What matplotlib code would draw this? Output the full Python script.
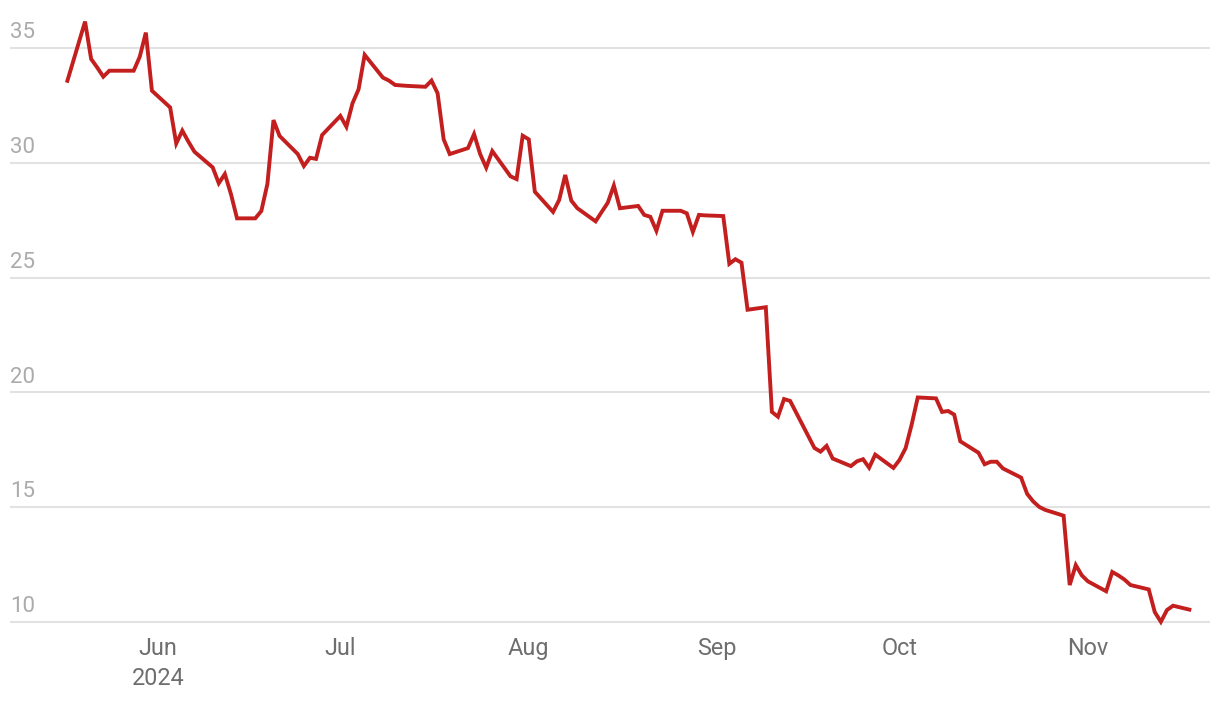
import matplotlib
matplotlib.use("Agg")
import matplotlib.pyplot as plt
import matplotlib.dates as mdates
import numpy as np
import datetime as dt

plt.rcParams['font.family'] = ['Roboto', 'DejaVu Sans']

DATES = [
    "2024-05-17", "2024-05-20", "2024-05-21", "2024-05-22", "2024-05-23", "2024-05-24",
    "2024-05-28", "2024-05-29", "2024-05-30", "2024-05-31", "2024-06-03", "2024-06-04",
    "2024-06-05", "2024-06-06", "2024-06-07", "2024-06-10", "2024-06-11", "2024-06-12",
    "2024-06-13", "2024-06-14", "2024-06-17", "2024-06-18", "2024-06-19", "2024-06-20",
    "2024-06-21", "2024-06-24", "2024-06-25", "2024-06-26", "2024-06-27", "2024-06-28",
    "2024-07-01", "2024-07-02", "2024-07-03", "2024-07-04", "2024-07-05", "2024-07-08",
    "2024-07-09", "2024-07-10", "2024-07-11", "2024-07-12", "2024-07-15", "2024-07-16",
    "2024-07-17", "2024-07-18", "2024-07-19", "2024-07-22", "2024-07-23", "2024-07-24",
    "2024-07-25", "2024-07-26", "2024-07-29", "2024-07-30", "2024-07-31", "2024-08-01",
    "2024-08-02", "2024-08-05", "2024-08-06", "2024-08-07", "2024-08-08", "2024-08-09",
    "2024-08-12", "2024-08-13", "2024-08-14", "2024-08-15", "2024-08-16", "2024-08-19",
    "2024-08-20", "2024-08-21", "2024-08-22", "2024-08-23", "2024-08-26", "2024-08-27",
    "2024-08-28", "2024-08-29", "2024-08-30", "2024-09-02", "2024-09-03", "2024-09-04",
    "2024-09-05", "2024-09-06", "2024-09-09", "2024-09-10", "2024-09-11", "2024-09-12",
    "2024-09-13", "2024-09-16", "2024-09-17", "2024-09-18", "2024-09-19", "2024-09-20",
    "2024-09-23", "2024-09-24", "2024-09-25", "2024-09-26", "2024-09-27", "2024-09-30",
    "2024-10-01", "2024-10-02", "2024-10-03", "2024-10-04", "2024-10-07", "2024-10-08",
    "2024-10-09", "2024-10-10", "2024-10-11", "2024-10-14", "2024-10-15", "2024-10-16",
    "2024-10-17", "2024-10-18", "2024-10-21", "2024-10-22", "2024-10-23", "2024-10-24",
    "2024-10-25", "2024-10-28", "2024-10-29", "2024-10-30", "2024-10-31", "2024-11-01",
    "2024-11-04", "2024-11-05", "2024-11-06", "2024-11-07", "2024-11-08", "2024-11-11",
    "2024-11-12", "2024-11-13", "2024-11-14", "2024-11-15", "2024-11-18",
]

VALUES = [
    33.49, 36.15, 34.52, 34.15, 33.75, 34.01,
    34.01, 34.62, 35.67, 33.14, 32.41, 30.84,
    31.40, 30.92, 30.48, 29.80, 29.11, 29.51,
    28.64, 27.58, 27.58, 27.90, 29.08, 31.86,
    31.17, 30.38, 29.86, 30.22, 30.17, 31.21,
    32.04, 31.57, 32.59, 33.20, 34.70, 33.71,
    33.58, 33.39, 33.37, 33.35, 33.31, 33.58,
    33.03, 31.02, 30.38, 30.64, 31.25, 30.38,
    29.79, 30.51, 29.41, 29.29, 31.18, 31.02,
    28.74, 27.86, 28.38, 29.47, 28.35, 28.02,
    27.45, 27.86, 28.26, 29.01, 28.02, 28.12,
    27.73, 27.65, 27.04, 27.91, 27.91, 27.80,
    26.99, 27.73, 27.71, 27.68, 25.60, 25.80,
    25.65, 23.60, 23.71, 19.15, 18.94, 19.71,
    19.63, 18.10, 17.58, 17.42, 17.67, 17.12,
    16.79, 17.00, 17.09, 16.72, 17.29, 16.71,
    17.06, 17.57, 18.60, 19.78, 19.74, 19.15,
    19.19, 19.03, 17.87, 17.37, 16.87, 16.98,
    16.98, 16.69, 16.29, 15.58, 15.25, 15.01,
    14.88, 14.63, 11.61, 12.48, 12.03, 11.77,
    11.34, 12.18, 12.03, 11.85, 11.61, 11.42,
    10.43, 10.01, 10.52, 10.71, 10.52,
]

Y_TICKS = [10, 15, 20, 25, 30, 35]
X_TICKS = ["2024-06-01", "2024-07-01", "2024-08-01", "2024-09-01", "2024-10-01", "2024-11-01"]
X_TICK_LABELS = ["Jun\n2024", "Jul", "Aug", "Sep", "Oct", "Nov"]

W, H = 1220, 702
fig = plt.figure(figsize=(W / 100, H / 100), dpi=100)
fig.patch.set_facecolor("white")

# axes geometry (pixels)
ax_left_px, ax_right_px = 10, 1210
ax_top_px, ax_bot_px = 0, 624.3
ax = fig.add_axes([ax_left_px / W, (H - ax_bot_px) / H,
                   (ax_right_px - ax_left_px) / W, (ax_bot_px - ax_top_px) / H])

x = [mdates.date2num(dt.datetime.strptime(d, "%Y-%m-%d")) for d in DATES]
ax.plot(x, VALUES, color="#c41f1f", lw=2.8, solid_joinstyle="miter",
        solid_capstyle="butt", clip_on=False, zorder=3)

jun1 = mdates.date2num(dt.datetime(2024, 6, 1))
px_per_day = 6.078
ax.set_xlim(jun1 - (158 - ax_left_px) / px_per_day, jun1 + (ax_right_px - 158) / px_per_day)
ax.set_ylim(9.9, 37.09)

ax.set_yticks(Y_TICKS)
ax.yaxis.grid(True, color="#e2e2e2", lw=1.5, zorder=0)
ax.tick_params(axis="y", length=0, labelleft=False)
for v in Y_TICKS:
    ax.annotate(str(v), xy=(0, v), xycoords=("axes fraction", "data"),
                xytext=(0, 7), textcoords="offset points", ha="left",
                va="baseline", fontsize=16, color="#ababab")

ax.set_xticks([mdates.date2num(dt.datetime.strptime(d, "%Y-%m-%d")) for d in X_TICKS])
ax.set_xticklabels(X_TICK_LABELS, fontsize=16.8, color="#6e6e6e", linespacing=1.38)
ax.tick_params(axis="x", length=0, pad=9.5)

for s in ax.spines.values():
    s.set_visible(False)
ax.set_facecolor("none")

fig.savefig("out.png", dpi=100, facecolor="white")
